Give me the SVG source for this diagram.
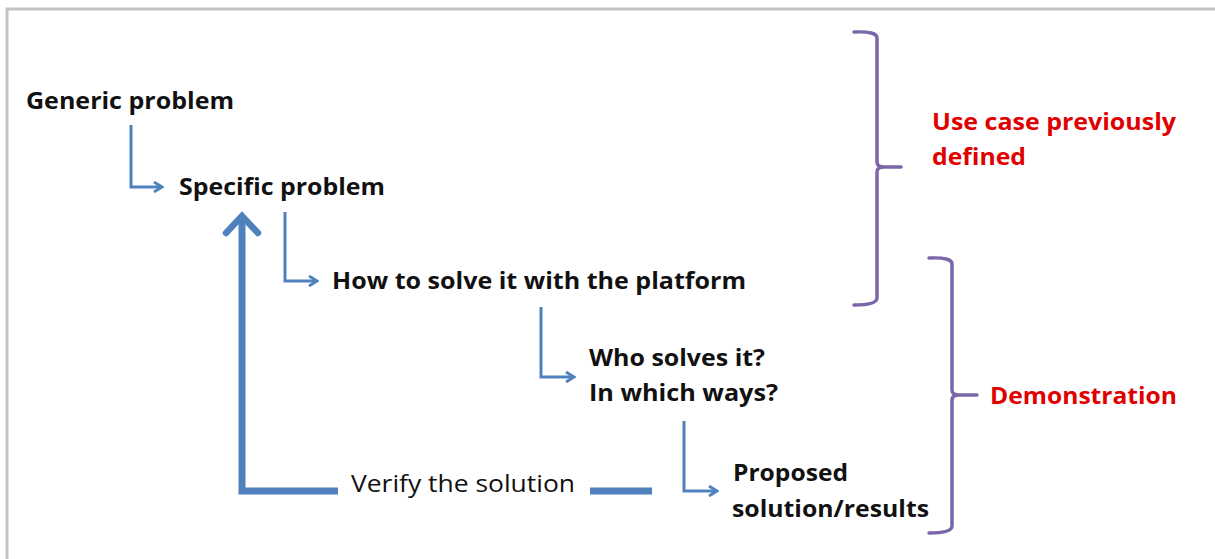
<svg xmlns="http://www.w3.org/2000/svg" width="1215" height="559" viewBox="0 0 1215 559">
  <defs>
    <style>
      .step { font-family: "Open Sans", "Liberation Sans", sans-serif; font-weight: 700; font-size: 23px; fill: #111; }
      .note { font-family: "Open Sans", "Liberation Sans", sans-serif; font-weight: 400; font-size: 24px; fill: #111; }
      .label { font-family: "Open Sans", "Liberation Sans", sans-serif; font-weight: 700; font-size: 23px; fill: #e00000; }
      .flow { fill: none; stroke: #4f81bd; stroke-width: 3; stroke-linejoin: miter; }
      .loop { fill: none; stroke: #4f81bd; stroke-width: 7; }
      .brace { fill: none; stroke: #7a66a8; stroke-width: 3.5; stroke-linecap: round; stroke-linejoin: round; }
    </style>
    <marker id="tip" viewBox="0 0 12 12" refX="10" refY="6" markerWidth="12" markerHeight="12" markerUnits="userSpaceOnUse" orient="auto">
      <path d="M2,1 L10,6 L2,11" fill="none" stroke="#4f81bd" stroke-width="2.8"/>
    </marker>
    <!-- open chevron head for the thick return arrow -->
    <marker id="bigtip" viewBox="0 0 40 40" refX="28" refY="20" markerWidth="40" markerHeight="40" markerUnits="userSpaceOnUse" orient="auto">
      <path d="M11,4 L28,20 L11,36" fill="none" stroke="#4f81bd" stroke-width="6.5" stroke-linecap="round"/>
    </marker>
  </defs>

  <rect width="1215" height="559" fill="#fff"/>
  <!-- frame edges -->
  <path d="M7,559 V9 H1215" fill="none" stroke="#c4c4c4" stroke-width="3"/>

  <g id="connectors">
    <path class="flow" d="M131,125 V187 H162" marker-end="url(#tip)"/>
    <path class="flow" d="M285,212 V281 H317" marker-end="url(#tip)"/>
    <path class="flow" d="M541,307 V377 H574" marker-end="url(#tip)"/>
    <path class="flow" d="M684,421 V491 H717" marker-end="url(#tip)"/>
    <!-- feedback loop -->
    <path class="loop" d="M338,491 H242 V216" marker-end="url(#bigtip)"/>
    <path class="loop" d="M590,491 H652"/>
  </g>

  <g id="generic-problem">
    <text class="step" x="26" y="109" textLength="208" lengthAdjust="spacingAndGlyphs">Generic problem</text>
  </g>
  <g id="specific-problem">
    <text class="step" x="179" y="195" textLength="206" lengthAdjust="spacingAndGlyphs">Specific problem</text>
  </g>
  <g id="how-to-solve">
    <text class="step" x="332" y="289" textLength="414" lengthAdjust="spacingAndGlyphs">How to solve it with the platform</text>
  </g>
  <g id="who-solves">
    <text class="step" x="589" y="366" textLength="176" lengthAdjust="spacingAndGlyphs">Who solves it?</text>
    <text class="step" x="589" y="401" textLength="189" lengthAdjust="spacingAndGlyphs">In which ways?</text>
  </g>
  <g id="proposed-solution">
    <text class="step" x="733" y="481" textLength="115" lengthAdjust="spacingAndGlyphs">Proposed</text>
    <text class="step" x="732" y="517" textLength="197" lengthAdjust="spacingAndGlyphs">solution/results</text>
  </g>
  <g id="verify">
    <text class="note" x="351" y="492" textLength="224" lengthAdjust="spacingAndGlyphs">Verify the solution</text>
  </g>

  <g id="use-case-brace">
    <path class="brace" d="M854,32 Q877,31 877,38 V162 Q877,167 884,167 H901 M884,167 Q877,167 877,172 V298 Q877,305 854,305"/>
    <text class="label" x="932" y="130" textLength="244" lengthAdjust="spacingAndGlyphs">Use case previously</text>
    <text class="label" x="932" y="165" textLength="94" lengthAdjust="spacingAndGlyphs">defined</text>
  </g>
  <g id="demonstration-brace">
    <path class="brace" d="M929,258 Q952,257 952,264 V390 Q952,395 959,395 H977 M959,395 Q952,395 952,400 V526 Q952,533 929,533"/>
    <text class="label" x="990" y="404" textLength="187" lengthAdjust="spacingAndGlyphs">Demonstration</text>
  </g>
</svg>
